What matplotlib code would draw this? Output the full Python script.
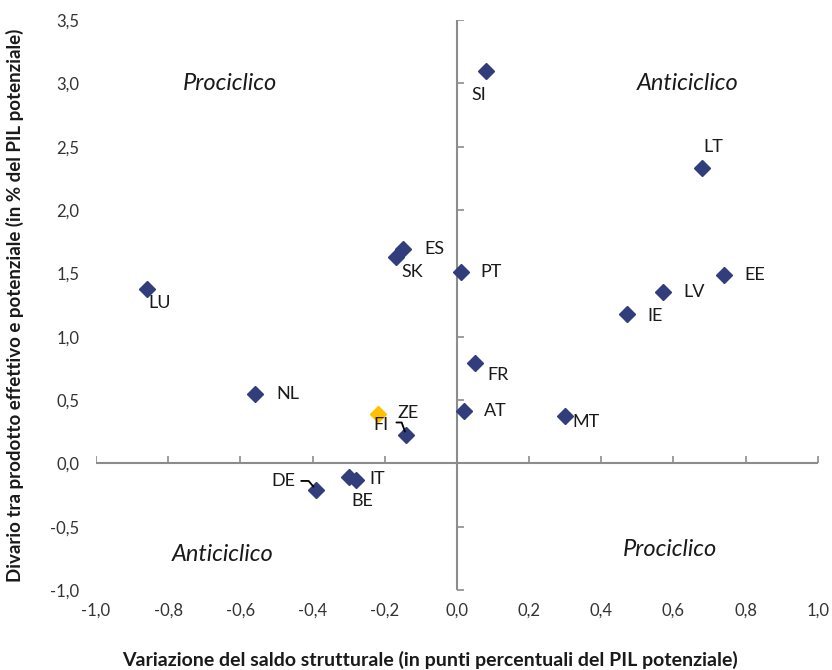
import numpy as np
import matplotlib
matplotlib.use("Agg")
import matplotlib.pyplot as plt
from matplotlib.ticker import FuncFormatter

plt.rcParams['font.family'] = ['Lato', 'DejaVu Sans']

# data
countries = ["SI", "LT", "EE", "LV", "IE", "MT", "LU", "ES", "SK", "PT",
             "FR", "NL", "AT", "FI", "ZE", "IT", "BE", "DE"]
saldo_var = [0.08, 0.68, 0.74, 0.57, 0.47, 0.30, -0.86, -0.15, -0.17, 0.01,
             0.05, -0.56, 0.02, -0.22, -0.14, -0.28, -0.30, -0.39]
output_gap = [3.10, 2.33, 1.49, 1.35, 1.18, 0.37, 1.38, 1.69, 1.63, 1.51,
              0.79, 0.55, 0.41, 0.39, 0.22, -0.13, -0.11, -0.21]
highlight = ["FI"]

# label offsets in pixels (dx, dy) relative to each point
label_offsets = {
    "SI": (-7, -24), "LT": (11, 21), "EE": (31, 0), "LV": (31, 0),
    "IE": (28, -2), "MT": (21, -6), "LU": (13, -14), "ES": (32, 0),
    "SK": (17, -15), "PT": (31, 0), "FR": (23, -12), "NL": (33, 0),
    "AT": (31, 0), "FI": (3, -11), "ZE": (2, 22), "IT": (21, 1),
    "BE": (14, -24), "DE": (-33, 9),
}

quadrants = [("Prociclico", -0.63, 3.0), ("Anticiclico", 0.64, 3.0),
             ("Anticiclico", -0.65, -0.72), ("Prociclico", 0.59, -0.68)]

xticks = np.arange(-1.0, 1.01, 0.2)
yticks = np.arange(-1.0, 3.51, 0.5)

navy = "#323E7C"
gold = "#FFC000"
axis_grey = "#8C8C8C"
text_col = "#1a1a1a"

fig = plt.figure(figsize=(8.32, 6.7), dpi=100)
ax = fig.add_axes([0.1154, 0.1194, 0.8676, 0.8507])

ax.set_xlim(-1.0, 1.0)
ax.set_ylim(-1.0, 3.5)

# zero lines acting as axes
ax.axhline(0, color=axis_grey, lw=1.5, zorder=1)
ax.axvline(0, color=axis_grey, lw=1.5, zorder=1)
ax.plot(xticks, np.zeros_like(xticks), ls="none", marker=2, ms=5,
        mew=1.2, color=axis_grey, zorder=1)
ax.plot(np.zeros_like(yticks), yticks, ls="none", marker=1, ms=5,
        mew=1.2, color=axis_grey, zorder=1)

for s in ax.spines.values():
    s.set_visible(False)
ax.set_xticks(xticks)
ax.set_yticks(yticks)
ax.tick_params(length=0, labelsize=12, colors="#333333", pad=9)
ax.tick_params(axis="y", pad=12)
fmt = FuncFormatter(lambda v, p: f"{v:.1f}".replace(".", ",").replace("-0,0", "0,0"))
ax.xaxis.set_major_formatter(fmt)
ax.yaxis.set_major_formatter(fmt)

for name, x, y in zip(countries, saldo_var, output_gap):
    c = gold if name in highlight else navy
    ax.plot(x, y, marker="D", ms=8, color=c, mec=c, ls="none", zorder=3)
    dx, dy = label_offsets[name]
    ax.annotate(name, (x, y), xytext=(dx, dy), textcoords="offset pixels",
                ha="center", va="center", fontsize=13, color=text_col)

# leader lines
ax.annotate("", (saldo_var[countries.index("ZE")], output_gap[countries.index("ZE")]),
            xytext=(-10, 13), textcoords="offset pixels",
            arrowprops=dict(arrowstyle="-", color="black", lw=1.3,
                            shrinkA=0, shrinkB=3,
                            connectionstyle="angle,angleA=0,angleB=110,rad=0"))
ax.annotate("", (saldo_var[countries.index("DE")], output_gap[countries.index("DE")]),
            xytext=(-15, 9), textcoords="offset pixels",
            arrowprops=dict(arrowstyle="-", color="black", lw=1.3,
                            shrinkA=0, shrinkB=3,
                            connectionstyle="angle,angleA=0,angleB=130,rad=0"))

for txt, x, y in quadrants:
    ax.text(x, y, txt, fontsize=17, style="italic", ha="center", va="center",
            color=text_col)

fig.text(0.517, 0.015, "Variazione del saldo strutturale (in punti percentuali del PIL potenziale)",
         ha="center", va="center", fontsize=14, fontweight="bold", color=text_col)
fig.text(0.018, 0.545, "Divario tra prodotto effettivo e potenziale (in % del PIL potenziale)",
         ha="center", va="center", rotation=90, fontsize=13.5, fontweight="bold",
         color=text_col)

fig.savefig("out.png", dpi=100)
